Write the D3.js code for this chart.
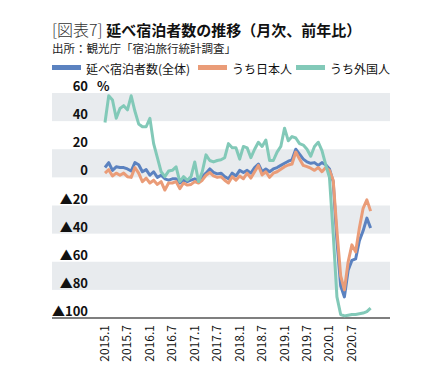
<!DOCTYPE html>
<html>
<head>
<meta charset="utf-8">
<script src="https://cdn.jsdelivr.net/npm/d3@7"></script>
<style>
  body { margin: 0; background: #fff; }
  svg { font-family: "Noto Sans CJK JP", "Noto Sans", sans-serif; }
</style>
</head>
<body>
<svg id="chart" width="442" height="389"></svg>
<script>
// monthly labels, 2015.1 - 2020.12
var months = [];
for (var yr = 2015; yr <= 2020; yr++) {
    for (var m = 1; m <= 12; m++) months.push(yr + '.' + m);
}
var tickLabels = ['2015.1', '2015.7', '2016.1', '2016.7', '2017.1', '2017.7',
                  '2018.1', '2018.7', '2019.1', '2019.7', '2020.1', '2020.7'];
var yTicks = [60, 40, 20, 0, -20, -40, -60, -80, -100];

// 延べ宿泊者数(全体)
var total = [7, 10.5, 5, 7.5, 7, 7, 6, 4.5, 10.5, 9, 4, 5.5,
             1.5, 4, 0, 1.5, -1, -2, -1, -1, -4, -2, -3, -2,
             -1, -2, 0.5, 3, 6, 3.5, 2.5, 3, 0.5, -1, 3, 1,
             5, 3.5, 5, 3, 7, 9.5, 4, 6, 4, 6, 7, 8.5,
             10, 11.5, 12.5, 20, 16.5, 13, 11, 10, 10.5, 8.5, 10.5, 9,
             6, -3, -45, -77, -85, -66, -59, -58, -45, -38, -29, -36];
// うち日本人
var japanese = [3, 5.5, 1, 3, 1.5, 3, 0.5, 0, 7, 3, -3, -0.5,
                -4, -2, -5, -3, -9, -4, -4, -3, -8, -4, -5.5, -5,
                -3, -4, -2, 1.5, 3.5, 1, 0, 0.5, -2, -4, 0.5, -2,
                1, -1, 3, -0.5, 4, 8.5, 1.7, 4, 0, 3, 4, 5.8,
                7.6, 8.8, 9.5, 18, 13, 8.5, 7.6, 6.5, 5, 7, 4, 7,
                5, -2, -38, -70, -80, -60, -48, -53, -36, -22, -16, -24];
// うち外国人
var foreign = [39, 58, 55, 42, 49, 51, 48, 58, 47, 38, 36, 36,
               42, 24, 14, 4, 0.5, 4.5, 5, 7.5, -3, 0.5, -2, 0.5,
               11, -3, 4, 16, 12, 11, 12, 12.5, 14, 24, 21, 21,
               13, 22, 21, 14, 20, 25, 22, 26.6, 12, 12, 18, 22,
               35, 26, 29, 28, 24, 23, 20, 15, 22, 25, 19, 9,
               0, -40, -85, -97.5, -98.5, -98, -97.5, -97.5, -97, -96.5, -95.5, -93];

var seriesNames = ['延べ宿泊者数(全体)', 'うち日本人', 'うち外国人'];
var seriesColors = ['#5b82c0', '#ea9c78', '#82c9b8'];

var svg = d3.select('#chart');

var plot = {left: 52, right: 390, top: 93, bottom: 318};

var x = d3.scalePoint()
    .domain(months)
    .range([105, 370.6]);

var y = d3.scaleLinear()
    .domain([-100, 60])
    .range([plot.bottom, plot.top]);

// title
var title = svg.append('text')
    .attr('x', 52)
    .attr('y', 36)
    .attr('fill', '#111');
title.append('tspan')
    .attr('font-size', 16)
    .attr('font-weight', 300)
    .attr('fill', '#333')
    .text('[図表7] ');
title.append('tspan')
    .attr('font-size', 15)
    .attr('font-weight', 'bold')
    .text('延べ宿泊者数の推移（月次、前年比）');

svg.append('text')
    .attr('x', 52)
    .attr('y', 53)
    .attr('font-size', 11.5)
    .attr('fill', '#222')
    .text('出所：観光庁「宿泊旅行統計調査」');

// legend
var legendX = [52, 198, 296];
var legend = svg.selectAll('.legend')
    .data(seriesNames)
    .enter()
    .append('g')
    .attr('class', 'legend')
    .attr('transform', (d, i) => 'translate(' + legendX[i] + ',0)');
legend.append('rect')
    .attr('x', 0)
    .attr('y', 65)
    .attr('width', 29)
    .attr('height', 5)
    .attr('fill', (d, i) => seriesColors[i]);
legend.append('text')
    .attr('x', 34)
    .attr('y', 73.5)
    .attr('font-size', 12)
    .attr('fill', '#111')
    .text(d => d);

// grey bands
var bands = [[60, 40], [20, 0], [-20, -40], [-60, -80]];
svg.selectAll('.band')
    .data(bands)
    .enter()
    .append('rect')
    .attr('class', 'band')
    .attr('x', plot.left)
    .attr('width', plot.right - plot.left)
    .attr('y', d => y(d[0]))
    .attr('height', d => y(d[1]) - y(d[0]))
    .attr('fill', '#e8ebee');

// y tick labels
svg.selectAll('.ylab')
    .data(yTicks)
    .enter()
    .append('text')
    .attr('class', 'ylab')
    .attr('x', 88)
    .attr('y', d => y(d) - 2)
    .attr('text-anchor', 'end')
    .attr('font-size', 13)
    .attr('font-weight', 'bold')
    .attr('fill', '#111')
    .text(d => d < 0 ? '▲' + Math.abs(d) : d);

svg.append('text')
    .attr('x', 97)
    .attr('y', y(60) - 2)
    .attr('font-size', 13)
    .attr('font-weight', 'bold')
    .attr('fill', '#111')
    .text('%');

// x axis line
svg.append('line')
    .attr('x1', plot.left)
    .attr('x2', plot.right)
    .attr('y1', plot.bottom)
    .attr('y2', plot.bottom)
    .attr('stroke', '#000')
    .attr('stroke-width', 1.2);

svg.selectAll('.xlab')
    .data(tickLabels)
    .enter()
    .append('text')
    .attr('class', 'xlab')
    .attr('transform', d => 'translate(' + (x(d) + 4) + ',' + (plot.bottom + 7) + ') rotate(-90)')
    .attr('text-anchor', 'end')
    .attr('font-size', 12)
    .attr('fill', '#111')
    .text(d => d);

// lines
var line = d3.line()
    .x((d, i) => x(months[i]))
    .y(d => y(d))
    .curve(d3.curveLinear);

var allSeries = [total, japanese, foreign];
svg.selectAll('.series')
    .data(allSeries)
    .enter()
    .append('path')
    .attr('class', 'series')
    .attr('d', d => line(d))
    .attr('fill', 'none')
    .attr('stroke', (d, i) => seriesColors[i])
    .attr('stroke-width', 3)
    .attr('stroke-linejoin', 'round');
</script>
</body>
</html>
